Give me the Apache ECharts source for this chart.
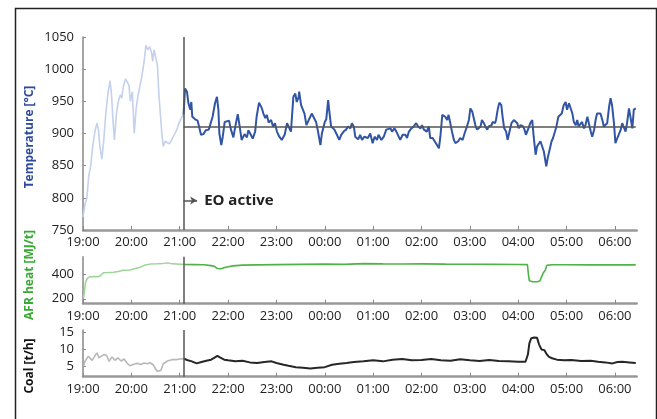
<!DOCTYPE html>
<html lang="en">
<head>
<meta charset="utf-8">
<title>EO active - temperature, AFR heat, coal</title>
<script src="https://cdn.jsdelivr.net/npm/echarts@6/dist/echarts.min.js"></script>
<style>
  html, body { margin: 0; padding: 0; background: #fff; }
  #chart { width: 657px; height: 419px; }
</style>
</head>
<body>
<div id="chart"></div>
<script>
// time axis: hours after 19:00
var hourTicks = [0, 1, 2, 3, 4, 5, 6, 7, 8, 9, 10, 11];
var hourLabels = ['19:00', '20:00', '21:00', '22:00', '23:00', '00:00', '01:00', '02:00', '03:00', '04:00', '05:00', '06:00'];
var eoTime = 2.08;     // EO switched on (~21:05)
var endTime = 11.45;
var tempTarget = 910;

// temperature [°C], before EO (light) and after EO (dark)
var tempBefore = [
  [0.00,770],[0.04,790],[0.08,800],[0.12,835],[0.16,850],[0.20,880],[0.25,905],[0.29,916],[0.32,905],
  [0.35,880],[0.39,860],[0.43,890],[0.47,930],[0.52,965],[0.56,982],[0.59,960],[0.62,920],[0.65,890],
  [0.69,930],[0.73,950],[0.77,960],[0.80,955],[0.84,975],[0.88,985],[0.92,988],[0.95,975],[0.98,950],
  [1.02,965],[1.06,900],[1.10,940],[1.14,960],[1.18,975],[1.22,990],[1.26,1010],[1.30,1037],[1.34,1030],
  [1.38,1035],[1.42,1025],[1.44,1012],[1.47,1030],[1.50,1020],[1.54,1005],[1.57,960],[1.60,930],
  [1.63,900],[1.66,880],[1.70,888],[1.74,885],[1.78,884],[1.82,888],[1.86,890],[1.90,900],[1.94,906],
  [1.98,915],[2.02,922],[2.06,928],[2.08,930]
];
var tempAfter = [
  [2.08,930],[2.11,970],[2.15,965],[2.18,947],[2.22,937],[2.24,949],[2.26,926],[2.32,922],[2.37,920],
  [2.40,911],[2.44,898],[2.49,899],[2.54,905],[2.60,906],[2.63,908],[2.68,926],[2.73,947],[2.77,957],
  [2.80,937],[2.82,900],[2.86,882],[2.89,895],[2.93,918],[2.97,921],[3.02,920],[3.06,906],[3.11,894],
  [3.15,911],[3.20,930],[3.24,911],[3.28,890],[3.34,899],[3.39,894],[3.42,905],[3.47,898],[3.51,892],
  [3.56,903],[3.59,926],[3.64,948],[3.70,939],[3.73,931],[3.77,924],[3.80,929],[3.84,917],[3.89,921],
  [3.93,911],[3.97,916],[4.01,903],[4.06,895],[4.11,890],[4.17,898],[4.22,916],[4.26,915],[4.30,903],
  [4.35,957],[4.39,962],[4.42,949],[4.46,957],[4.47,965],[4.51,944],[4.54,947],[4.58,931],[4.62,913],
  [4.65,918],[4.70,926],[4.73,931],[4.77,929],[4.82,918],[4.86,903],[4.91,882],[4.94,900],[5.00,918],
  [5.03,922],[5.07,952],[5.09,937],[5.13,911],[5.17,913],[5.20,906],[5.25,898],[5.30,890],[5.34,898],
  [5.39,903],[5.44,906],[5.48,911],[5.53,908],[5.56,916],[5.60,911],[5.63,895],[5.69,891],[5.73,898],
  [5.77,890],[5.82,895],[5.85,898],[5.89,893],[5.94,900],[5.99,885],[6.03,895],[6.08,890],[6.11,898],
  [6.17,890],[6.22,895],[6.27,906],[6.31,905],[6.36,908],[6.39,903],[6.44,908],[6.48,903],[6.52,905],
  [6.56,890],[6.61,898],[6.67,898],[6.70,893],[6.74,903],[6.79,908],[6.84,911],[6.89,916],[6.93,911],
  [6.98,908],[7.01,913],[7.05,906],[7.08,908],[7.11,903],[7.15,911],[7.18,893],[7.23,893],[7.27,890],
  [7.32,882],[7.36,877],[7.39,895],[7.43,929],[7.46,929],[7.49,926],[7.53,921],[7.56,929],[7.60,929],
  [7.63,903],[7.67,890],[7.70,885],[7.76,888],[7.80,893],[7.85,890],[7.89,900],[7.94,911],[7.98,921],
  [8.01,939],[8.05,934],[8.08,924],[8.12,911],[8.15,906],[8.19,903],[8.22,911],[8.25,921],[8.29,916],
  [8.32,911],[8.36,906],[8.39,911],[8.45,913],[8.47,918],[8.52,916],[8.54,921],[8.58,939],[8.61,948],
  [8.65,944],[8.68,924],[8.71,908],[8.75,903],[8.78,890],[8.82,903],[8.86,916],[8.91,921],[8.94,918],
  [8.98,916],[9.01,908],[9.05,913],[9.10,911],[9.13,906],[9.16,898],[9.21,908],[9.25,916],[9.29,921],
  [9.32,895],[9.36,867],[9.39,880],[9.43,877],[9.46,888],[9.50,890],[9.53,872],[9.58,849],[9.61,862],
  [9.65,875],[9.69,888],[9.72,893],[9.76,903],[9.79,911],[9.83,926],[9.86,924],[9.90,931],[9.94,944],
  [9.98,949],[10.01,937],[10.05,947],[10.08,948],[10.12,931],[10.15,918],[10.19,913],[10.22,921],
  [10.25,911],[10.29,913],[10.32,918],[10.36,908],[10.39,913],[10.43,926],[10.46,916],[10.50,903],
  [10.53,895],[10.57,906],[10.60,921],[10.63,931],[10.67,931],[10.70,931],[10.74,921],[10.77,911],
  [10.81,908],[10.84,916],[10.88,942],[10.91,955],[10.94,944],[10.98,916],[11.01,885],[11.05,893],
  [11.08,893],[11.12,906],[11.15,916],[11.19,913],[11.22,903],[11.25,916],[11.29,939],[11.32,926],
  [11.36,908],[11.39,937],[11.43,939]
];

// AFR heat [MJ/t]
var afrBefore = [
  [0.01,206],[0.03,260],[0.05,330],[0.09,365],[0.14,378],[0.25,380],[0.32,378],[0.37,390],[0.42,410],
  [0.52,412],[0.63,415],[0.73,420],[0.83,430],[0.97,432],[1.08,445],[1.18,455],[1.28,472],[1.39,480],
  [1.53,483],[1.66,486],[1.75,490],[1.84,482],[1.94,480],[2.04,478],[2.10,477]
];
var afrAfter = [
  [2.10,477],[2.30,476],[2.50,475],[2.65,468],[2.72,462],[2.78,444],[2.85,442],[2.95,455],[3.10,466],
  [3.30,472],[3.60,474],[4.00,476],[4.50,478],[5.00,480],[5.40,478],[5.80,484],[6.20,482],[6.60,481],
  [7.00,482],[7.50,480],[8.00,479],[8.50,478],[9.00,477],[9.19,476],[9.21,400],[9.23,345],[9.30,338],
  [9.40,338],[9.45,345],[9.48,375],[9.52,410],[9.56,430],[9.59,470],[9.70,475],[10.00,475],[10.50,474],
  [11.00,474],[11.43,474]
];

// coal [t/h]
var coalBefore = [
  [0.01,5.0],[0.04,6.5],[0.11,8.0],[0.14,7.5],[0.19,6.8],[0.25,8.2],[0.29,9.0],[0.33,7.5],[0.37,7.0],
  [0.43,8.5],[0.49,8.2],[0.54,6.5],[0.60,7.8],[0.66,6.8],[0.72,7.5],[0.79,6.6],[0.85,7.2],[0.91,6.0],
  [0.97,5.2],[1.01,4.8],[1.08,5.8],[1.14,5.9],[1.20,5.6],[1.26,6.0],[1.33,5.8],[1.39,6.1],[1.45,5.5],
  [1.49,5.8],[1.53,3.6],[1.57,3.3],[1.61,3.8],[1.66,5.8],[1.70,6.2],[1.76,6.7],[1.84,7.0],[1.93,7.0],
  [2.01,7.2],[2.09,7.3]
];
var coalAfter = [
  [2.09,7.3],[2.15,6.9],[2.25,6.5],[2.35,5.9],[2.45,6.3],[2.55,6.7],[2.65,7.0],[2.72,7.6],[2.78,8.1],
  [2.84,7.6],[2.92,7.0],[3.00,6.8],[3.15,6.5],[3.30,6.7],[3.45,6.2],[3.60,6.0],[3.75,6.3],[3.90,6.5],
  [4.00,6.0],[4.15,5.5],[4.25,5.2],[4.40,4.8],[4.55,4.6],[4.70,4.4],[4.85,4.6],[5.00,4.8],[5.15,5.5],
  [5.30,5.8],[5.45,6.0],[5.60,6.3],[5.80,6.5],[6.00,6.8],[6.20,6.5],[6.40,7.0],[6.60,7.2],[6.80,6.8],
  [7.00,6.9],[7.20,7.2],[7.40,6.8],[7.60,6.7],[7.80,7.1],[8.00,6.8],[8.20,6.6],[8.40,6.9],[8.60,6.6],
  [8.80,6.5],[9.00,6.4],[9.15,6.4],[9.20,8.5],[9.23,11.8],[9.27,13.3],[9.33,13.5],[9.39,13.4],
  [9.43,11.5],[9.48,10.0],[9.54,9.8],[9.58,8.8],[9.63,7.9],[9.70,7.4],[9.80,7.0],[9.95,6.8],[10.10,6.9],
  [10.30,6.6],[10.50,6.7],[10.65,6.4],[10.80,6.2],[10.95,5.9],[11.05,6.3],[11.15,6.4],[11.30,6.2],
  [11.43,6.0]
];

var FONT = '"Open Sans", "Noto Sans", sans-serif';
var txtCol = '#222';

function xAxisFor(idx) {
  return {
    type: 'value', gridIndex: idx, min: 0, max: endTime,
    axisLine: { show: true, lineStyle: { color: '#999', width: 2.5 } },
    axisTick: { show: true, inside: true, length: 4, customValues: hourTicks, lineStyle: { color: '#888', width: 1 } },
    axisLabel: {
      customValues: hourTicks, margin: 6, color: txtCol, fontFamily: FONT, fontSize: 13,
      formatter: function (v) { return hourLabels[Math.round(v)]; }
    },
    splitLine: { show: false }
  };
}

function yAxisFor(idx, min, max, ticks) {
  return {
    type: 'value', gridIndex: idx, min: min, max: max,
    axisLine: { show: true, lineStyle: { color: '#888', width: 1.5 } },
    axisTick: { show: true, inside: true, length: 3, customValues: ticks, lineStyle: { color: '#888' } },
    axisLabel: {
      customValues: ticks, margin: 9, color: txtCol, fontFamily: FONT, fontSize: 13,
      formatter: function (v) { return String(v); }
    },
    splitLine: { show: false }
  };
}

// rotated y-axis titles
function axisTitle(text, color, x, y) {
  return {
    type: 'text', x: x, y: y, rotation: Math.PI / 2, silent: true,
    style: { text: text, fill: color, font: 'bold 12px ' + FONT, align: 'center', verticalAlign: 'middle' }
  };
}

function eoLine(lo, hi) {
  return [{ coord: [eoTime, lo] }, { coord: [eoTime, hi] }];
}

var chart = echarts.init(document.getElementById('chart'));
chart.setOption({
  animation: false,
  grid: [
    { left: 83, width: 553.7, top: 37, height: 193 },
    { left: 83, width: 553.7, top: 256.7, height: 47 },
    { left: 83, width: 553.7, top: 330, height: 46.7 }
  ],
  xAxis: [xAxisFor(0), xAxisFor(1), xAxisFor(2)],
  yAxis: [
    yAxisFor(0, 750, 1050, [750, 800, 850, 900, 950, 1000, 1050]),
    yAxisFor(1, 160, 540, [200, 400]),
    yAxisFor(2, 2, 15.7, [5, 10, 15])
  ],
  graphic: [
    {
      type: 'rect', left: 13, top: 6, silent: true,
      shape: { width: 641, height: 430 },
      style: { fill: 'none', stroke: '#222', lineWidth: 1.5 }
    },
    axisTitle('Temperature [°C]', '#2e4a9e', 30, 137),
    axisTitle('AFR heat [MJ/t]', '#3aa935', 30, 275),
    axisTitle('Coal [t/h]', '#111', 30, 366)
  ],
  series: [
    { type: 'line', xAxisIndex: 0, yAxisIndex: 0, data: tempBefore, showSymbol: false,
      lineStyle: { color: '#c4d0ec', width: 1.6 } },
    { type: 'line', xAxisIndex: 0, yAxisIndex: 0, data: tempAfter, showSymbol: false,
      lineStyle: { color: '#3155a4', width: 2 },
      markLine: {
        silent: true, symbol: 'none', animation: false,
        lineStyle: { color: '#555', width: 1.5, type: 'solid' },
        label: { show: false },
        data: [
          eoLine(750, 1050),
          [{ coord: [eoTime, tempTarget] }, { coord: [endTime - 0.02, tempTarget] }],
          [{ coord: [eoTime, 796], symbol: 'none' },
           { coord: [eoTime + 0.28, 796], symbol: 'arrow', symbolSize: [6, 7],
             label: { show: true, position: 'end', distance: 7, formatter: 'EO active',
                      color: txtCol, fontFamily: FONT, fontSize: 15, fontWeight: 'bold' } }]
        ]
      } },
    { type: 'line', xAxisIndex: 1, yAxisIndex: 1, data: afrBefore, showSymbol: false,
      lineStyle: { color: '#9cd596', width: 1.5 } },
    { type: 'line', xAxisIndex: 1, yAxisIndex: 1, data: afrAfter, showSymbol: false,
      lineStyle: { color: '#4fb347', width: 1.6 },
      markLine: {
        silent: true, symbol: 'none', animation: false,
        lineStyle: { color: '#555', width: 1.5, type: 'solid' },
        label: { show: false },
        data: [eoLine(160, 540)]
      } },
    { type: 'line', xAxisIndex: 2, yAxisIndex: 2, data: coalBefore, showSymbol: false,
      lineStyle: { color: '#b8b8b8', width: 1.6 } },
    { type: 'line', xAxisIndex: 2, yAxisIndex: 2, data: coalAfter, showSymbol: false,
      lineStyle: { color: '#262626', width: 2 },
      markLine: {
        silent: true, symbol: 'none', animation: false,
        lineStyle: { color: '#555', width: 1.5, type: 'solid' },
        label: { show: false },
        data: [eoLine(2, 15.7)]
      } }
  ]
});
</script>
</body>
</html>
